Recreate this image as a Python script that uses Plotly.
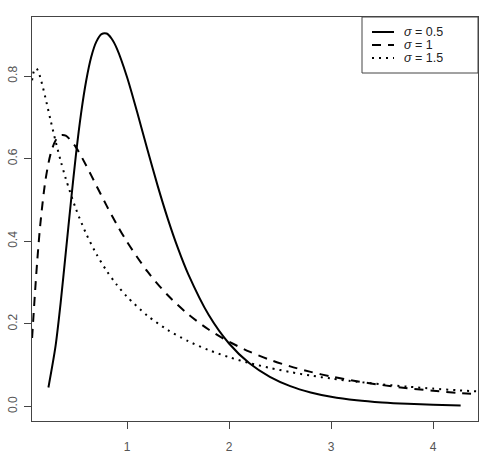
import plotly.graph_objects as go

# values (log-normal densities, mu = 0)
x_s05 = [0.23, 0.3, 0.35, 0.4, 0.45, 0.5, 0.55, 0.6, 0.65, 0.7, 0.75, 0.8, 0.85, 0.9, 1.0, 1.1, 1.2, 1.3,
         1.4, 1.5, 1.6, 1.8, 2.0, 2.2, 2.4, 2.6, 2.8, 3.0, 3.25, 3.5, 3.75, 4.0, 4.27]
y_s05 = [0.0461, 0.1466, 0.2515, 0.3724, 0.4945, 0.6104, 0.7098, 0.7888, 0.8469, 0.8834, 0.9015, 0.9029,
         0.8904, 0.8671, 0.7979, 0.7123, 0.6222, 0.5348, 0.4544, 0.3828, 0.3206, 0.2221, 0.1526, 0.1046,
         0.0718, 0.0494, 0.0342, 0.0238, 0.01525, 0.00988, 0.00646, 0.00427, 0.00276]

x_s1 = [0.07, 0.08, 0.1, 0.12, 0.15, 0.2, 0.25, 0.3, 0.35, 0.4, 0.5, 0.6, 0.7, 0.8, 0.9, 1.0, 1.2, 1.4,
        1.6, 1.8, 2.0, 2.2, 2.4, 2.6, 2.8, 3.0, 3.25, 3.5, 3.75, 4.0, 4.25, 4.5]
y_s1 = [0.1662, 0.2052, 0.2816, 0.3514, 0.4399, 0.5464, 0.6104, 0.6442, 0.6568, 0.6557, 0.6275, 0.5835,
        0.5348, 0.4864, 0.4408, 0.3989, 0.3270, 0.2693, 0.2233, 0.1865, 0.1569, 0.1329, 0.1133, 0.0972,
        0.0839, 0.0727, 0.0613, 0.0520, 0.0444, 0.0381, 0.0330, 0.0286]

x_s15 = [0.07, 0.08, 0.1, 0.12, 0.15, 0.2, 0.25, 0.3, 0.35, 0.4, 0.5, 0.6, 0.7, 0.8, 0.9, 1.0, 1.2, 1.4,
         1.6, 1.8, 2.0, 2.2, 2.4, 2.6, 2.8, 3.0, 3.25, 3.5, 3.75, 4.0, 4.25, 4.5]
y_s15 = [0.7896, 0.8052, 0.8186, 0.8163, 0.7968, 0.7479, 0.6941, 0.6424, 0.5948, 0.5518, 0.4780, 0.4183,
         0.3693, 0.3288, 0.2948, 0.2660, 0.2200, 0.1853, 0.1583, 0.1368, 0.1195, 0.1053, 0.0935, 0.0835,
         0.0750, 0.0678, 0.0601, 0.0536, 0.0481, 0.0434, 0.0393, 0.0358]

labels = ["<i>σ</i> = 0.5", "<i>σ</i> = 1", "<i>σ</i> = 1.5"]
x_ticks = [1, 2, 3, 4]
y_ticks = [0.0, 0.2, 0.4, 0.6, 0.8]

dashes = ["solid", "9px,7px", "2px,5px"]
series = [(x_s05, y_s05), (x_s1, y_s1), (x_s15, y_s15)]

fig = go.Figure()
for (xs, ys), d, lab in zip(series, dashes, labels):
    fig.add_trace(go.Scatter(x=xs, y=ys, mode="lines", name=lab,
                             line=dict(color="black", width=2, dash=d, shape="spline", smoothing=0.8),
                             showlegend=False, hoverinfo="skip"))

W, H = 491, 456
L, R, T, B = 32, 13, 17, 35
pw, ph = W - L - R, H - T - B

def px_x(p):
    return (p - L) / pw

def px_y(p):
    return (H - B - p) / ph

axis_common = dict(showgrid=False, zeroline=False, showline=True, linecolor="#444", linewidth=1,
                   mirror=True, ticks="outside", ticklen=7, tickcolor="#444", tickwidth=1,
                   automargin=False,
                   tickfont=dict(family="Liberation Sans, Arial", size=12, color="#555"))

fig.update_xaxes(range=[0.069, 4.44], tickvals=x_ticks, ticktext=[str(v) for v in x_ticks],
                 ticklabelstandoff=8, **axis_common)
fig.update_yaxes(range=[-0.035, 0.943], tickvals=y_ticks, ticktext=[f"{v:.1f}" for v in y_ticks],
                 tickangle=-90, ticklabelstandoff=2, **axis_common)

# legend box drawn in R style
shapes = [dict(type="rect", xref="paper", yref="paper", x0=px_x(362), x1=px_x(478),
               y0=px_y(73), y1=px_y(17), line=dict(color="#444", width=1), fillcolor="white")]
annotations = []
rows = [32, 45, 58]
for ry, d, lab in zip(rows, dashes, labels):
    shapes.append(dict(type="line", xref="paper", yref="paper", x0=px_x(372), x1=px_x(394),
                       y0=px_y(ry), y1=px_y(ry), line=dict(color="black", width=2, dash=d)))
    annotations.append(dict(xref="paper", yref="paper", x=px_x(403), y=px_y(ry), text=lab,
                            showarrow=False, xanchor="left", yanchor="middle", height=12,
                            borderpad=0,
                            font=dict(family="Liberation Sans, Arial", size=12.5, color="#222")))

fig.update_layout(width=W, height=H, margin=dict(l=L, r=R, t=T, b=B, autoexpand=False),
                  plot_bgcolor="white", paper_bgcolor="white",
                  shapes=shapes, annotations=annotations)

fig.write_html("out.html", config={"displayModeBar": False},
               post_script="document.body.style.margin='0';document.body.style.padding='0';")
